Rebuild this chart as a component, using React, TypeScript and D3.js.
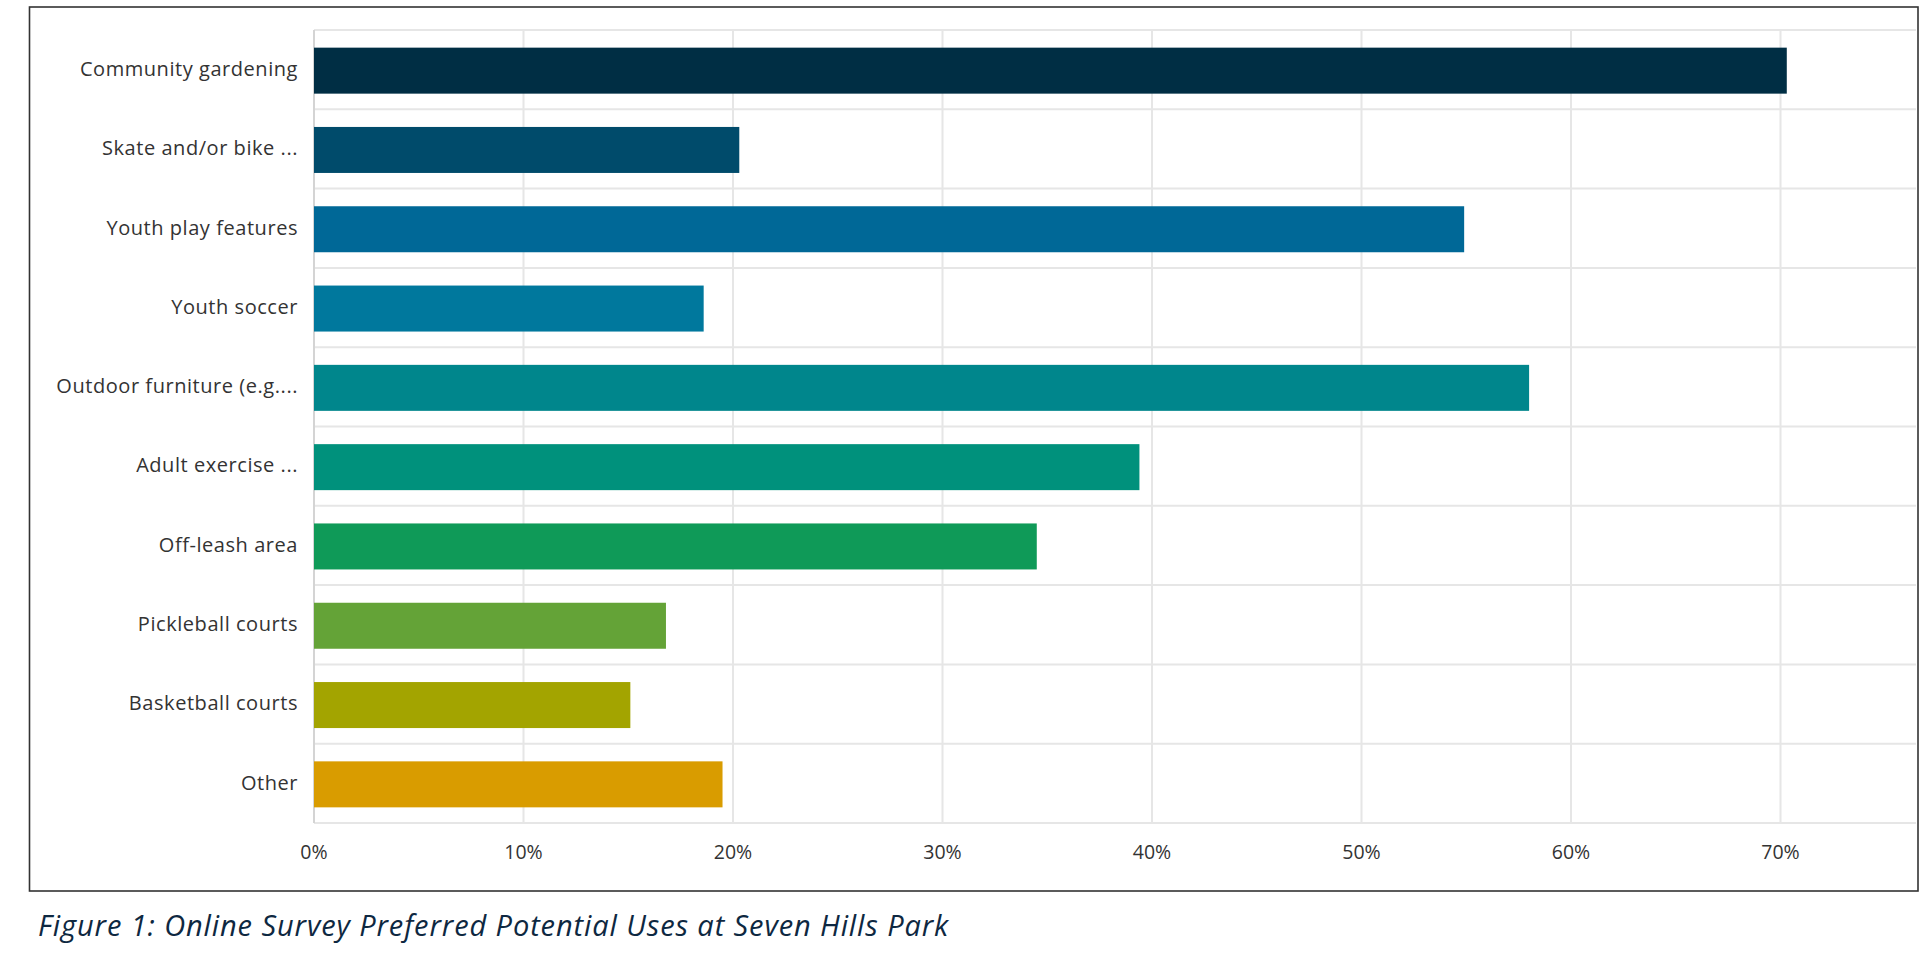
import React from "react";
import * as d3 from "d3";

const categories = [
  "Community gardening",
  "Skate and/or bike ...",
  "Youth play features",
  "Youth soccer",
  "Outdoor furniture (e.g....",
  "Adult exercise ...",
  "Off-leash area",
  "Pickleball courts",
  "Basketball courts",
  "Other",
];
const values = [0.703, 0.203, 0.549, 0.186, 0.58, 0.394, 0.345, 0.168, 0.151, 0.195];
const colors = [
  "#002e44", "#004b6b", "#006897", "#00789d", "#00868c",
  "#00917c", "#0f9a58", "#64a337", "#a3a400", "#d99c00",
];
const ticks = [0, 0.1, 0.2, 0.3, 0.4, 0.5, 0.6, 0.7];
const caption = "Figure 1: Online Survey Preferred Potential Uses at Seven Hills Park";

export default function App() {
  const W = 1932, H = 962;
  const left = 314, top = 30, bottom = 823, gridRight = 1916;
  const x = d3.scaleLinear().domain([0, 0.7]).range([left, 1780.5]);
  const y = d3.scaleBand<string>().domain(categories).range([top, bottom]).paddingInner(0).paddingOuter(0);
  const barH = 46;
  const fmt = d3.format(".0%");
  const font = "'Open Sans', 'Noto Sans', sans-serif";
  return (
    <svg width={W} height={H} style={{ position: "absolute", left: 0, top: 0, background: "#fff" }}>
      <rect x={29.5} y={7} width={1918 - 29.5} height={891 - 7} fill="#fff" stroke="#333" strokeWidth={1.6} />
      {categories.map((c) => (
        <line key={"h" + c} x1={left} x2={gridRight} y1={y(c)!} y2={y(c)!} stroke="#e6e6e6" strokeWidth={2} />
      ))}
      <line x1={left} x2={gridRight} y1={bottom} y2={bottom} stroke="#e6e6e6" strokeWidth={2} />
      {ticks.map((t) => (
        <line key={"v" + t} x1={x(t)} x2={x(t)} y1={top} y2={bottom} stroke={t === 0 ? "#d4d4d4" : "#e6e6e6"} strokeWidth={2} />
      ))}
      {categories.map((c, i) => (
        <rect
          key={"b" + c}
          x={x(0)}
          y={y(c)! + (y.bandwidth() - barH) / 2 + 1}
          width={x(values[i]) - x(0)}
          height={barH}
          fill={colors[i]}
        />
      ))}
      {categories.map((c) => (
        <text
          key={"l" + c}
          x={298}
          y={y(c)! + y.bandwidth() / 2 + 1}
          textAnchor="end"
          dominantBaseline="middle"
          fontFamily={font}
          fontSize={20}
          letterSpacing={0.55}
          fill="#333"
        >
          {c}
        </text>
      ))}
      {ticks.map((t) => (
        <text
          key={"t" + t}
          x={x(t)}
          y={854}
          textAnchor="middle"
          dominantBaseline="middle"
          fontFamily={font}
          fontSize={19.5}
          fill="#333"
        >
          {fmt(t)}
        </text>
      ))}
      <text x={38} y={936} fontFamily={font} fontStyle="italic" fontSize={29} letterSpacing={0.9} fill="#0e2841">
        {caption}
      </text>
    </svg>
  );
}
